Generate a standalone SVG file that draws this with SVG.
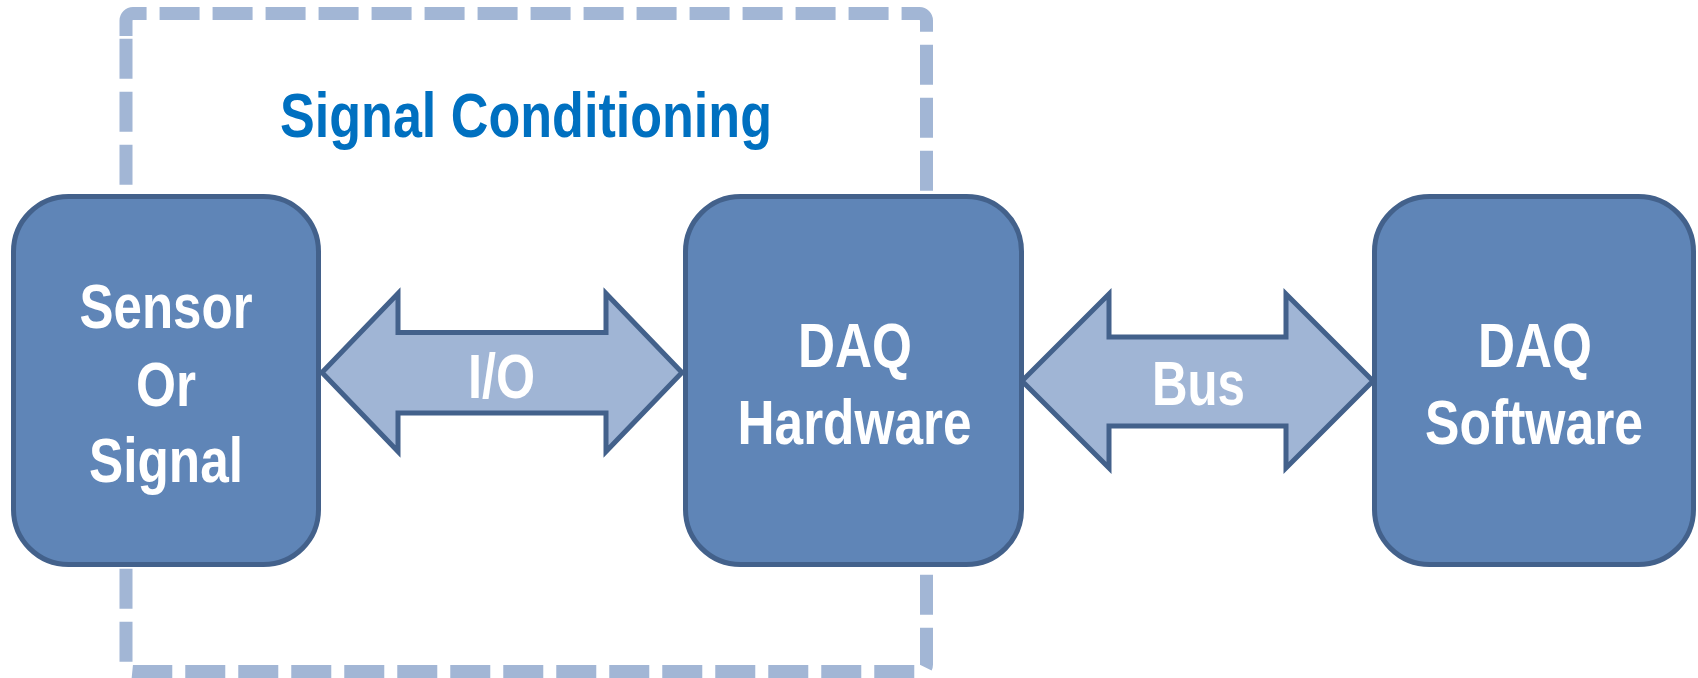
<svg xmlns="http://www.w3.org/2000/svg" width="1698" height="678" viewBox="0 0 1698 678">
  <style>
    .box { fill: #5F85B7; stroke: #43618B; stroke-width: 5; }
    .arrow { fill: #A0B5D5; stroke: #43618B; stroke-width: 5; stroke-linejoin: miter; }
    .lbl { font-family: "Liberation Sans", Arial, sans-serif; font-weight: bold; font-size: 63px; fill: #FFFFFF; text-anchor: middle; }
    .title { font-family: "Liberation Sans", Arial, sans-serif; font-weight: bold; font-size: 63px; fill: #0070C0; }
    .group { fill: none; stroke: #A2B6D5; stroke-width: 13; stroke-dasharray: 40 13; }
  </style>
  <rect width="1698" height="678" fill="#FFFFFF"/>

  <g id="signal-conditioning">
    <path class="group" d="M126,36 L126,20.5 A7,7 0 0 1 133,13.5 L919.5,13.5 A7,7 0 0 1 926.5,20.5 L926.5,664.5 A7,7 0 0 1 919.5,671.5 L133,671.5 A7,7 0 0 1 126,664.5 Z"/>
    <text class="title" x="280" y="137" textLength="492" lengthAdjust="spacingAndGlyphs">Signal Conditioning</text>
  </g>

  <g id="connectors">
    <g id="io-arrow">
      <polygon class="arrow" points="322,372.5 398,293.5 398,332.5 606,332.5 606,293.5 682,372.5 606,451.5 606,413 398,413 398,451.5"/>
      <text class="lbl" x="501.5" y="398" textLength="67" lengthAdjust="spacingAndGlyphs">I/O</text>
    </g>
    <g id="bus-arrow">
      <polygon class="arrow" points="1022,381 1109,294 1109,337 1286,337 1286,294 1373,381 1286,468 1286,426 1109,426 1109,468"/>
      <text class="lbl" x="1198.5" y="405" textLength="93" lengthAdjust="spacingAndGlyphs">Bus</text>
    </g>
  </g>

  <g id="sensor">
    <rect class="box" x="13.5" y="196.5" width="305" height="368" rx="55" ry="55"/>
    <text class="lbl" x="166" y="328" textLength="173" lengthAdjust="spacingAndGlyphs">Sensor</text>
    <text class="lbl" x="166" y="406" textLength="60" lengthAdjust="spacingAndGlyphs">Or</text>
    <text class="lbl" x="166" y="482" textLength="154" lengthAdjust="spacingAndGlyphs">Signal</text>
  </g>

  <g id="daq-hardware">
    <rect class="box" x="685.5" y="196.5" width="336" height="368" rx="55" ry="55"/>
    <text class="lbl" x="855" y="367" textLength="114" lengthAdjust="spacingAndGlyphs">DAQ</text>
    <text class="lbl" x="854.5" y="444" textLength="234" lengthAdjust="spacingAndGlyphs">Hardware</text>
  </g>

  <g id="daq-software">
    <rect class="box" x="1374.5" y="196.5" width="319" height="368" rx="55" ry="55"/>
    <text class="lbl" x="1535" y="367" textLength="114" lengthAdjust="spacingAndGlyphs">DAQ</text>
    <text class="lbl" x="1534" y="444" textLength="218" lengthAdjust="spacingAndGlyphs">Software</text>
  </g>
</svg>
